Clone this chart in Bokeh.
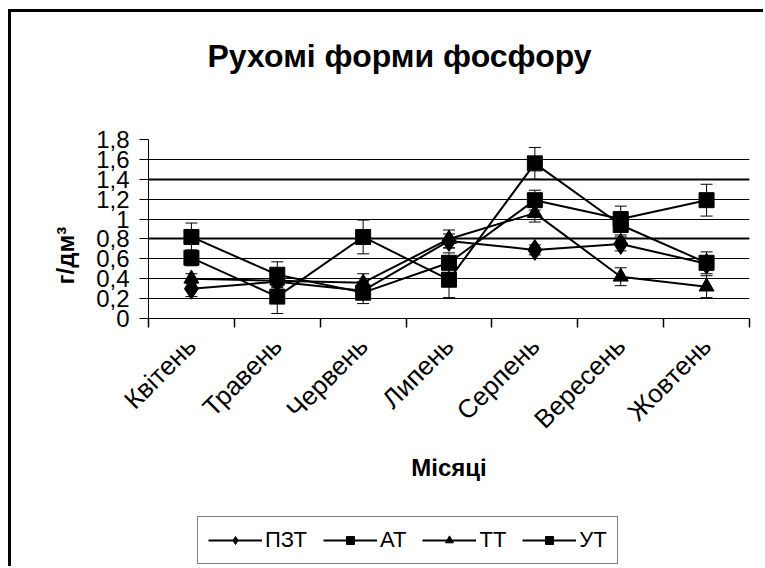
import math
from bokeh.plotting import figure
from bokeh.layouts import column
from bokeh.models import (ColumnDataSource, Range1d, FixedTicker, CustomJSTickFormatter,
                          Whisker, TeeHead, Legend, LegendItem, Title, Grid)
from bokeh.embed import file_html
from bokeh.resources import INLINE

# ---- data ----
months = ["Квітень", "Травень", "Червень", "Липень", "Серпень", "Вересень", "Жовтень"]
pzt = [0.30, 0.37, 0.28, 0.78, 0.69, 0.75, 0.55]
pzt_err = [0.08, 0.05, 0.05, 0.07, 0.05, 0.07, 0.06]
at = [0.82, 0.44, 0.26, 0.56, 1.19, 1.00, 1.19]
at_err = [0.14, 0.13, 0.11, 0.10, 0.10, 0.13, 0.16]
tt = [0.40, 0.38, 0.36, 0.80, 1.06, 0.42, 0.32]
tt_err = [0.05, 0.05, 0.09, 0.09, 0.09, 0.09, 0.11]
ut = [0.61, 0.22, 0.82, 0.39, 1.56, 0.94, 0.56]
ut_err = [0.08, 0.17, 0.17, 0.18, 0.16, 0.10, 0.11]
series_names = ["ПЗТ", "АТ", "ТТ", "УТ"]
y_ticks = [0, 0.2, 0.4, 0.6, 0.8, 1.0, 1.2, 1.4, 1.6, 1.8]
grid_ticks = [0.2, 0.4, 0.6, 0.8, 1.0, 1.2, 1.4, 1.6]
bold_grid = [0.8, 1.4]
title_text = "Рухомі форми фосфору"
x_title = "Місяці"
y_title = "г/дм³"

FONT = "Liberation Sans"
n = len(months)
xs = [i + 0.5 for i in range(n)]
bounds = list(range(n + 1))

p = figure(width=752, height=500, output_backend="svg", toolbar_location=None,
           x_range=Range1d(0, n), y_range=Range1d(0, 1.8),
           min_border_left=137, min_border_right=14, min_border_top=127, min_border_bottom=194)
p.outline_line_color = None
p.background_fill_color = "white"
p.border_fill_color = "white"
p.title.visible = False

# x axis
xa = p.xaxis[0]
xa.ticker = FixedTicker(ticks=xs, minor_ticks=bounds)
xa.formatter = CustomJSTickFormatter(args=dict(labels=months),
                                     code="const i = Math.floor(tick); return (i >= 0 && i < labels.length) ? labels[i] : '';")
xa.major_tick_in = 0
xa.major_tick_out = 0
xa.minor_tick_in = 0
xa.minor_tick_out = 9
xa.minor_tick_line_color = "black"
xa.minor_tick_line_width = 1.5
xa.axis_line_color = "black"
xa.major_label_orientation = math.pi / 4
xa.major_label_standoff = 14
xa.major_label_text_font = FONT
xa.major_label_text_font_size = "26px"
xa.major_label_text_color = "black"
xa.axis_label = x_title
xa.axis_label_standoff = 6
xa.axis_label_text_font = FONT
xa.axis_label_text_font_size = "24px"
xa.axis_label_text_font_style = "bold"
xa.axis_label_text_color = "black"

# y axis
ya = p.yaxis[0]
ya.ticker = FixedTicker(ticks=y_ticks, minor_ticks=[])
ya.formatter = CustomJSTickFormatter(code="return (Math.round(tick*10)/10).toString().replace('.', ',');")
ya.major_tick_in = 0
ya.major_tick_out = 9
ya.major_tick_line_color = "black"
ya.axis_line_color = "black"
ya.major_label_standoff = 10
ya.major_label_text_font = FONT
ya.major_label_text_font_size = "24px"
ya.major_label_text_color = "black"

p.xgrid.visible = False
p.ygrid.ticker = FixedTicker(ticks=grid_ticks)
p.ygrid.grid_line_color = "black"
p.ygrid.grid_line_width = 1
p.add_layout(Grid(dimension=1, ticker=FixedTicker(ticks=bold_grid),
                  grid_line_color="black", grid_line_width=2.2))

# legend strip (separate figure below the chart)
pl = figure(width=752, height=54, output_backend="svg", toolbar_location=None,
            x_axis_type=None, y_axis_type=None,
            x_range=Range1d(-20, -19), y_range=Range1d(-20, -19),
            min_border=0, min_border_left=0, min_border_right=0,
            min_border_top=0, min_border_bottom=0)
pl.outline_line_color = None
pl.background_fill_color = "white"
pl.border_fill_color = "white"
pl.title.visible = False

markers = ["diamond", "square", "triangle", "square"]
sizes = [21, 15, 15, 15]
vals = [pzt, at, tt, ut]
errs = [pzt_err, at_err, tt_err, ut_err]

items = []
for name, mk, sz, v, e in zip(series_names, markers, sizes, vals, errs):
    src = ColumnDataSource(dict(x=xs, y=v,
                                upper=[a + b for a, b in zip(v, e)],
                                lower=[a - b for a, b in zip(v, e)]))
    p.line("x", "y", source=src, line_color="black", line_width=2)
    p.add_layout(Whisker(source=src, base="x", upper="upper", lower="lower", dimension="height",
                         line_color="black", line_width=1,
                         upper_head=TeeHead(size=12, line_color="black", line_width=1),
                         lower_head=TeeHead(size=12, line_color="black", line_width=1)))
    p.scatter("x", "y", source=src, marker=mk, size=sz, fill_color="black", line_color="black")
    lr = pl.line("x", "y", source=src, line_color="black", line_width=2)
    sr = pl.scatter("x", "y", source=src, marker=mk, size=sz, fill_color="black", line_color="black")
    items.append(LegendItem(label=name, renderers=[lr, sr]))

legend = Legend(items=items, orientation="horizontal", location=(49, 2),
                border_line_color="black", border_line_width=1.5,
                background_fill_color="white", background_fill_alpha=1,
                label_text_font=FONT, label_text_font_size="22px", label_text_color="black",
                glyph_width=54, glyph_height=20, label_height=20,
                label_standoff=3, spacing=16, padding=10, margin=0)
pl.add_layout(legend, "center")

# spacer between the frame and the main title (added first => closest to the frame)
p.add_layout(Title(text=" ", align="left", standoff=58, text_font=FONT,
                   text_font_size="1px", text_color="white"), "above")
p.add_layout(Title(text=title_text, align="left", offset=59, standoff=10,
                   text_font=FONT, text_font_size="32px", text_font_style="bold",
                   text_color="black"), "above")
p.add_layout(Title(text=y_title, align="left", offset=34, standoff=30,
                   text_font=FONT, text_font_size="24px", text_font_style="bold",
                   text_color="black"), "left")

layout = column(p, pl, spacing=0)
layout.styles = {"border-left": "3px solid black", "border-top": "3px solid black",
                 "margin-left": "8px", "margin-top": "9px"}

open("out.html", "w").write(file_html(layout, INLINE))
